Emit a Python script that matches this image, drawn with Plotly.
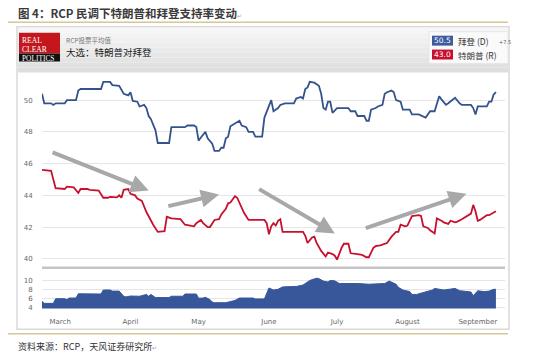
import plotly.graph_objects as go

# ---------------- data ----------------
biden_dates = ["2020-02-22","2020-02-23","2020-02-26","2020-02-27","2020-02-28","2020-03-03","2020-03-04","2020-03-08",
    "2020-03-09","2020-03-10","2020-03-19","2020-03-20","2020-03-23","2020-03-24","2020-03-27","2020-03-29","2020-03-31",
    "2020-04-01","2020-04-02","2020-04-04","2020-04-05","2020-04-07","2020-04-08","2020-04-09","2020-04-10","2020-04-12",
    "2020-04-13","2020-04-18","2020-04-19","2020-04-25","2020-04-26","2020-04-29","2020-04-30","2020-05-01","2020-05-02",
    "2020-05-04","2020-05-05","2020-05-07","2020-05-08","2020-05-10","2020-05-11","2020-05-12","2020-05-13","2020-05-14",
    "2020-05-15","2020-05-17","2020-05-19","2020-05-20","2020-05-22","2020-05-23","2020-05-25","2020-05-26","2020-05-29",
    "2020-05-30","2020-05-31","2020-06-02","2020-06-03","2020-06-05","2020-06-06","2020-06-08","2020-06-12","2020-06-13",
    "2020-06-15","2020-06-16","2020-06-17","2020-06-18","2020-06-19","2020-06-21","2020-06-23","2020-06-24","2020-06-25",
    "2020-06-26","2020-06-27","2020-06-28","2020-06-29","2020-07-01","2020-07-06","2020-07-07","2020-07-09","2020-07-10",
    "2020-07-13","2020-07-14","2020-07-15","2020-07-16","2020-07-18","2020-07-19","2020-07-21","2020-07-22","2020-07-23",
    "2020-07-25","2020-07-26","2020-07-27","2020-07-29","2020-07-30","2020-08-02","2020-08-03","2020-08-06","2020-08-09",
    "2020-08-10","2020-08-11","2020-08-13","2020-08-15","2020-08-16","2020-08-18","2020-08-19","2020-08-21","2020-08-22",
    "2020-08-24","2020-08-25","2020-08-29","2020-08-30","2020-08-31","2020-09-01","2020-09-05","2020-09-06","2020-09-07",
    "2020-09-08","2020-09-09"]
biden_vals = [50.4,49.8,49.8,49.7,49.8,49.8,50.0,50.0,
    50.6,50.7,50.7,51.15,51.15,50.95,50.9,50.4,50.3,
    50.5,49.95,49.9,49.6,49.7,49.5,49.0,48.8,48.1,
    47.3,47.3,48.3,48.3,48.4,48.4,48.3,47.45,47.65,
    48.0,47.6,47.25,46.8,46.8,47.0,47.0,47.6,47.7,
    48.35,48.5,48.7,48.4,48.3,48.0,48.0,47.7,47.7,
    48.9,49.3,50.0,49.3,49.5,49.7,49.8,49.8,50.1,
    50.2,50.1,50.7,50.8,51.15,51.1,50.9,50.4,49.5,
    49.4,49.9,49.9,49.2,49.5,49.5,49.3,49.3,49.0,
    49.0,48.7,48.7,49.4,49.5,49.6,49.7,50.4,50.5,
    50.6,50.5,50.0,49.9,49.4,49.4,49.1,49.1,48.9,
    49.1,49.3,49.3,50.25,50.05,49.7,49.8,50.0,50.15,
    49.8,49.7,49.7,49.5,49.1,49.6,49.6,49.9,49.9,
    50.35,50.5]

trump_dates = ["2020-02-22","2020-02-26","2020-02-28","2020-03-03","2020-03-04","2020-03-07","2020-03-09","2020-03-10",
    "2020-03-13","2020-03-14","2020-03-18","2020-03-20","2020-03-22","2020-03-23","2020-03-26","2020-03-27","2020-03-28",
    "2020-03-29","2020-03-31","2020-04-01","2020-04-03","2020-04-04","2020-04-06","2020-04-08","2020-04-11","2020-04-13",
    "2020-04-16","2020-04-17","2020-04-19","2020-04-23","2020-04-25","2020-04-28","2020-04-29","2020-04-30","2020-05-02",
    "2020-05-03","2020-05-05","2020-05-06","2020-05-08","2020-05-10","2020-05-11","2020-05-13","2020-05-14","2020-05-15",
    "2020-05-17","2020-05-18","2020-05-20","2020-05-21","2020-05-23","2020-05-30","2020-05-31","2020-06-01","2020-06-02",
    "2020-06-03","2020-06-04","2020-06-05","2020-06-06","2020-06-07","2020-06-16","2020-06-17","2020-06-18","2020-06-20",
    "2020-06-21","2020-06-22","2020-06-24","2020-06-25","2020-06-26","2020-06-27","2020-06-29","2020-06-30","2020-07-01",
    "2020-07-03","2020-07-04","2020-07-06","2020-07-07","2020-07-10","2020-07-12","2020-07-14","2020-07-15","2020-07-17",
    "2020-07-18","2020-07-20","2020-07-22","2020-07-23","2020-07-25","2020-07-27","2020-07-28","2020-07-29","2020-07-31",
    "2020-08-01","2020-08-03","2020-08-06","2020-08-07","2020-08-08","2020-08-10","2020-08-11","2020-08-13","2020-08-14",
    "2020-08-16","2020-08-17","2020-08-19","2020-08-20","2020-08-22","2020-08-23","2020-08-25","2020-08-26","2020-08-28",
    "2020-08-29","2020-08-30","2020-08-31","2020-09-01","2020-09-02","2020-09-04","2020-09-05","2020-09-06","2020-09-08",
    "2020-09-09"]
trump_vals = [45.6,45.55,44.45,44.4,44.55,44.5,44.15,44.4,
    44.4,44.35,44.3,43.85,43.85,43.9,43.87,44.0,43.85,
    44.35,44.4,44.1,44.0,43.8,43.65,42.95,42.15,41.7,
    41.75,42.65,42.55,42.5,42.15,42.1,42.05,42.25,42.45,
    42.25,42.0,42.0,42.45,42.5,42.8,43.15,43.5,43.55,
    43.95,43.85,43.15,42.9,42.45,42.45,42.25,41.55,42.05,
    42.25,42.1,42.4,42.5,41.7,41.7,41.45,41.0,41.35,
    41.4,41.0,40.5,40.3,40.15,40.4,40.3,40.2,39.95,
    40.7,40.95,40.95,40.35,40.3,40.25,40.1,40.1,40.7,
    40.8,40.85,40.95,41.0,41.4,41.7,41.7,42.15,42.05,
    42.1,42.7,42.75,42.7,42.05,41.95,41.8,41.6,42.55,
    42.4,42.3,42.2,42.4,42.3,42.35,42.5,42.6,42.75,
    42.85,43.4,43.0,42.4,42.45,42.65,42.75,42.75,42.95,
    43.0]

spread_dates = ["2020-02-22","2020-02-23","2020-02-27","2020-02-28","2020-03-03","2020-03-04","2020-03-05","2020-03-08",
    "2020-03-09","2020-03-19","2020-03-20","2020-03-23","2020-03-24","2020-03-27","2020-03-29","2020-03-30","2020-04-01",
    "2020-04-05","2020-04-08","2020-04-09","2020-04-10","2020-04-12","2020-04-18","2020-04-19","2020-04-24","2020-04-25",
    "2020-04-30","2020-05-01","2020-05-03","2020-05-04","2020-05-06","2020-05-07","2020-05-08","2020-05-13","2020-05-17",
    "2020-05-19","2020-05-25","2020-05-26","2020-05-30","2020-05-31","2020-06-01","2020-06-03","2020-06-04","2020-06-05",
    "2020-06-07","2020-06-13","2020-06-16","2020-06-17","2020-06-19","2020-06-22","2020-06-23","2020-06-25","2020-06-27",
    "2020-06-28","2020-06-30","2020-07-02","2020-07-06","2020-07-08","2020-07-10","2020-07-15","2020-07-19","2020-07-22",
    "2020-07-24","2020-07-25","2020-07-27","2020-07-28","2020-07-30","2020-08-02","2020-08-03","2020-08-05","2020-08-07",
    "2020-08-09","2020-08-12","2020-08-13","2020-08-15","2020-08-17","2020-08-20","2020-08-22","2020-08-24","2020-08-27",
    "2020-08-29","2020-08-30","2020-09-01","2020-09-02","2020-09-04","2020-09-06","2020-09-08","2020-09-09"]
spread_vals = [5.3,4.85,4.85,5.9,5.9,5.7,6.05,6.05,
    7.0,6.95,7.85,7.85,7.6,7.6,6.45,6.3,6.5,
    6.45,6.85,6.45,6.85,6.15,6.15,6.45,6.45,6.95,
    6.95,6.0,6.05,6.2,5.7,5.15,5.0,5.0,5.5,
    6.05,6.05,5.85,5.85,7.15,8.3,7.85,7.85,8.0,
    8.55,8.65,8.95,9.3,10.0,10.5,10.4,9.85,9.65,
    10.0,9.9,9.3,9.3,9.45,9.3,9.15,9.15,9.3,
    9.85,9.65,9.15,8.45,7.85,7.5,6.85,6.85,7.15,
    7.55,7.85,8.2,8.05,7.85,8.05,8.2,7.7,7.5,
    7.4,6.55,7.7,7.6,7.5,7.6,8.0,8.0]

month_ticks = ["2020-03-01","2020-04-01","2020-05-01","2020-06-01","2020-07-01","2020-08-01","2020-09-01"]
month_labels = ["March","April","May","June","July","August","September"]
main_ticks = [40, 42, 44, 46, 48, 50]
spread_ticks = [4, 6, 8, 10]

# trend arrows: (tail date, tail value, head date, head value)
arrows = [("2020-02-26", 46.75, "2020-04-09", 44.3),
          ("2020-04-17", 43.3, "2020-05-10", 44.06),
          ("2020-05-27", 44.45, "2020-06-30", 41.6),
          ("2020-07-13", 41.9, "2020-08-27", 44.1)]

# ---------------- figure ----------------
W, H = 550, 359
def px(x): return x / W
def py(y): return 1 - y / H

BLUE = "#34538c"
RED = "#c8102e"
CJK = "Noto Sans CJK SC"

fig = go.Figure()
fig.add_trace(go.Scatter(x=biden_dates, y=biden_vals, mode="lines",
                         line=dict(color=BLUE, width=1.8), xaxis="x", yaxis="y", hoverinfo="skip"))
fig.add_trace(go.Scatter(x=trump_dates, y=trump_vals, mode="lines",
                         line=dict(color=RED, width=1.8), xaxis="x", yaxis="y", hoverinfo="skip"))
fig.add_trace(go.Scatter(x=spread_dates, y=spread_vals, mode="lines", fill="tozeroy",
                         fillcolor="#37579a", line=dict(color="#37579a", width=1),
                         xaxis="x2", yaxis="y2", hoverinfo="skip"))

xr = ["2020-02-22", "2020-09-13"]
tickfont = dict(family="DejaVu Sans", size=7, color="#666666")

shapes = []
# card
shapes.append(dict(type="rect", xref="paper", yref="paper", x0=px(17), x1=px(509), y0=py(332), y1=py(27),
                   fillcolor="white", line=dict(color="#d9d9d9", width=1.5), layer="below"))
# header gradient bands
n = 9
for i in range(n):
    g = int(246 - (246 - 222) * i / (n - 1))
    shapes.append(dict(type="rect", xref="paper", yref="paper", x0=px(18), x1=px(508),
                       y0=py(28 + 5 * (i + 1)), y1=py(28 + 5 * i),
                       fillcolor=f"rgb({g},{g},{g})", line=dict(width=0), layer="below"))
# logo
shapes.append(dict(type="rect", xref="paper", yref="paper", x0=px(19), x1=px(60), y0=py(54), y1=py(33),
                   fillcolor="#c4161c", line=dict(width=0), layer="below"))
shapes.append(dict(type="rect", xref="paper", yref="paper", x0=px(19), x1=px(60), y0=py(62), y1=py(54),
                   fillcolor="#111111", line=dict(width=0), layer="below"))
# legend box
shapes.append(dict(type="rect", xref="paper", yref="paper", x0=px(429), x1=px(508), y0=py(64), y1=py(32),
                   fillcolor="#fafafa", line=dict(color="#e6e6e6", width=1), layer="below"))
shapes.append(dict(type="rect", xref="paper", yref="paper", x0=px(432), x1=px(453), y0=py(46), y1=py(36),
                   fillcolor="#3d5c9c", line=dict(width=0), layer="below"))
shapes.append(dict(type="rect", xref="paper", yref="paper", x0=px(432), x1=px(453), y0=py(60), y1=py(50),
                   fillcolor=RED, line=dict(width=0), layer="below"))
# golden rules
for yy in (22.5, 336.5):
    shapes.append(dict(type="line", xref="paper", yref="paper", x0=px(8), x1=px(508), y0=py(yy), y1=py(yy),
                       line=dict(color="#d6c795", width=1.5), layer="below"))
# separator between panels
shapes.append(dict(type="line", xref="paper", yref="paper", x0=px(42), x1=px(505), y0=py(270), y1=py(270),
                   line=dict(color="#c4c4c4", width=2.5), layer="above"))

ann = []
def txt(x, y, s, size, color="#333", family=CJK, anchor="left"):
    ann.append(dict(xref="paper", yref="paper", x=px(x), y=py(y), text=s, showarrow=False,
                    xanchor=anchor, yanchor="middle", font=dict(family=family, size=size, color=color)))

txt(16, 13, "<b>图 4：RCP 民调下特朗普和拜登支持率变动</b><span style='font-size:6px;color:#aaa'>↵</span>", 11.5, "#3a3a3a")
txt(16, 349, "资料来源：RCP，天风证券研究所<span style='font-size:6px;color:#aaa'>↵</span>", 9, "#333")
txt(64, 40, "RCP投票平均值", 6.5, "#777")
txt(64, 52, "大选：特朗普对拜登", 9.5, "#222")
ann.append(dict(xref="paper", yref="paper", x=px(19.5), y=py(49.5),
                text="<span style='font-size:7.6px'>REAL</span><br><span style='font-size:7.6px'>CLEAR</span>"
                     "<br><span style='font-size:7.4px'>POLITICS</span>",
                showarrow=False, xanchor="left", yanchor="middle", align="left",
                font=dict(family="Liberation Serif", size=6.8, color="white")))
txt(442.5, 41, "50.5", 7.5, "white", "DejaVu Sans", "center")
txt(442.5, 55, "43.0", 7.5, "white", "DejaVu Sans", "center")
txt(456, 41, "拜登 (D)", 8.5, "#333")
txt(456, 55, "特朗普 (R)", 8.5, "#333")
txt(497, 42, "+7.5", 5, "#555", "DejaVu Sans")

for t_d, t_v, h_d, h_v in arrows:
    ann.append(dict(xref="x", yref="y", axref="x", ayref="y", x=h_d, y=h_v, ax=t_d, ay=t_v,
                    text="", showarrow=True, arrowhead=2, arrowsize=0.9, arrowwidth=4,
                    arrowcolor="#a8a8a8", standoff=0, startstandoff=0))

fig.update_layout(
    width=W, height=H, margin=dict(l=0, r=0, t=0, b=0),
    paper_bgcolor="white", plot_bgcolor="rgba(0,0,0,0)", showlegend=False,
    shapes=shapes, annotations=ann,
    xaxis=dict(domain=[px(42), px(505)], range=xr, type="date", anchor="y", showticklabels=False,
               showgrid=False, zeroline=False, showline=False, fixedrange=True),
    yaxis=dict(domain=[py(270), py(76)], range=[39.44, 51.56], tickvals=main_ticks, anchor="x",
               gridcolor="#e6e6e6", gridwidth=1, zeroline=False, showline=False, tickfont=tickfont,
               ticks="outside", ticklen=7, tickcolor="rgba(0,0,0,0)"),
    xaxis2=dict(domain=[px(42), px(505)], range=xr, type="date", anchor="y2", tickvals=month_ticks,
                ticktext=month_labels, showgrid=False, zeroline=False, showline=False, tickfont=tickfont,
                ticks="outside", ticklen=6, tickcolor="rgba(0,0,0,0)"),
    yaxis2=dict(domain=[py(311), py(272)], range=[3.72, 12.4], tickvals=spread_ticks, anchor="x2",
                gridcolor="#e6e6e6", gridwidth=1, zeroline=False, showline=False, tickfont=tickfont,
                ticks="outside", ticklen=7, tickcolor="rgba(0,0,0,0)"),
)

fig.write_html("out.html", config={"displayModeBar": False},
               post_script="document.body.style.margin='0';document.body.style.padding='0';")
